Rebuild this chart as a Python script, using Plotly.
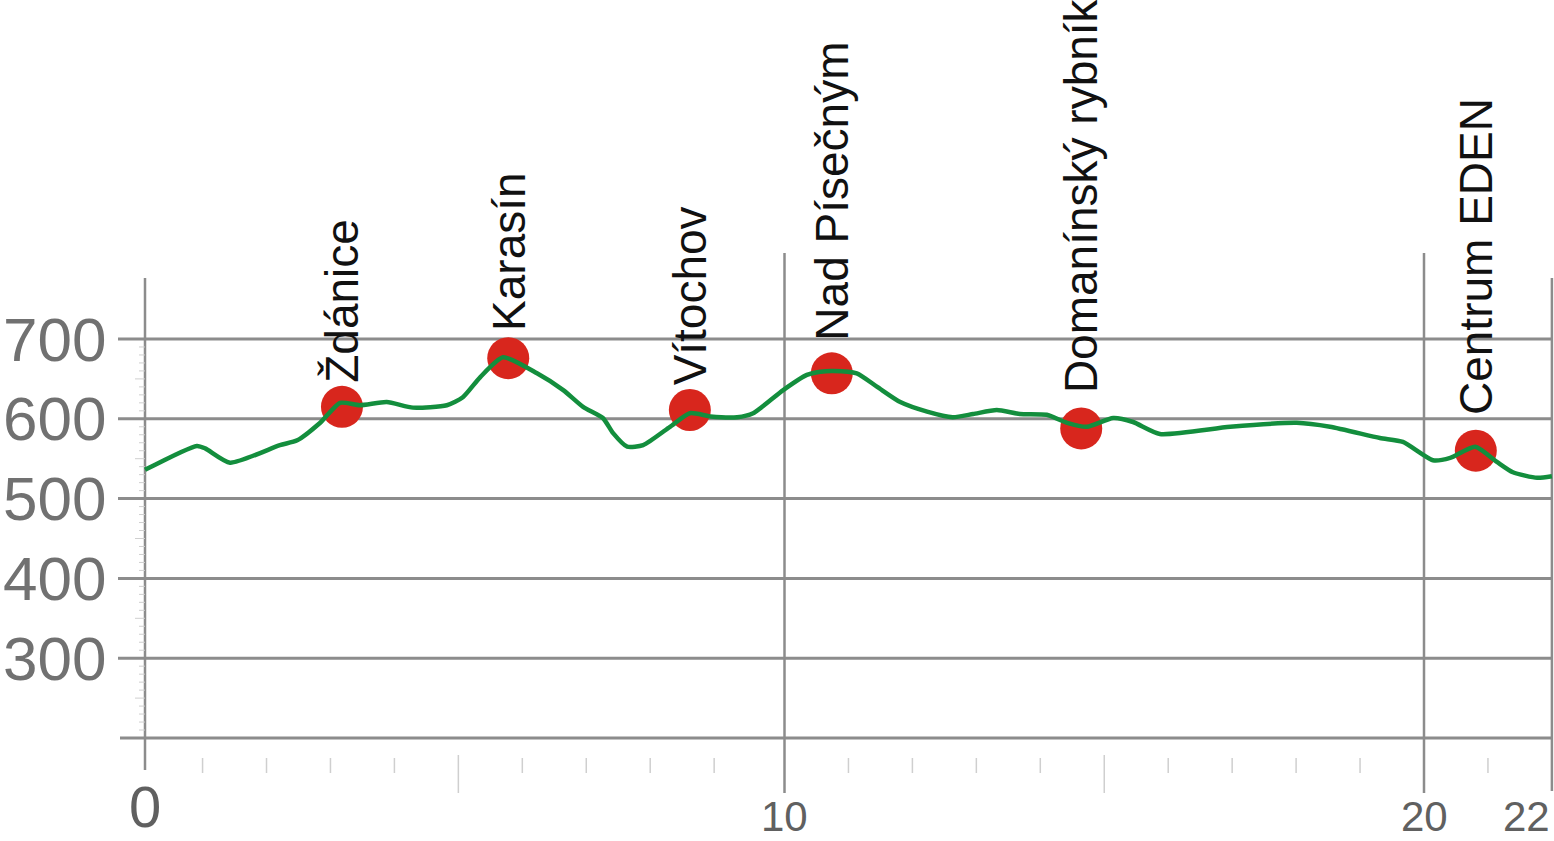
import plotly.graph_objects as go

# ---------------- data ----------------
km = [0.0, 0.81, 0.94, 1.33, 2.11, 2.38, 2.74, 3.05, 3.36, 3.78, 4.19, 4.72, 4.97,
      5.24, 5.60, 6.13, 6.54, 6.85, 7.16, 7.32, 7.54, 7.79, 8.21, 8.52, 8.84, 9.26,
      9.51, 9.98, 10.35, 10.56, 10.76, 11.13, 11.45, 11.81, 12.23, 12.63, 12.95,
      13.32, 13.68, 14.10, 14.42, 14.73, 15.14, 15.45, 15.87, 16.97, 18.01, 18.53,
      19.31, 19.67, 20.14, 20.41, 20.80, 21.14, 21.39, 21.77, 22.0]
elev = [536, 566, 563, 545, 567, 573, 595, 620, 617, 621, 614, 617, 627,
        652, 677, 657, 636, 615, 601, 582, 565, 567, 590, 607, 603, 602,
        607, 636, 655, 659, 660, 657, 640, 621, 609, 602, 606,
        611, 606, 605, 595, 590, 601, 596, 581, 590, 595, 590,
        576, 571, 548, 551, 565, 546, 533, 526, 528]

stations = ["Ždánice", "Karasín", "Vítochov", "Nad Písečným", "Domanínský rybník", "Centrum EDEN"]
station_km = [3.08, 5.68, 8.52, 10.74, 14.64, 20.81]
station_elev = [615, 676, 611, 657, 588, 560]

y_ticks = [700, 600, 500, 400, 300]
y_base = 200
x_tick_vals = [0, 10, 20, 22]
x_tick_text = ["0", "10", "20", "22"]

# ---------------- geometry ----------------
W, H = 1554, 841
X0PX, PXKM = 145, 63.95
Y200PX, PXM = 738, 0.798


def kx(px):
    return (px - X0PX) / PXKM


def ey(py):
    return y_base + (Y200PX - py) / PXM


xr = [kx(0), kx(W)]
yr = [ey(H), ey(0)]

GRID = "#8c8c8c"
MINOR = "#cfcfcf"
shapes = []

# horizontal grid lines
for v in y_ticks:
    shapes.append(dict(type="line", xref="x", yref="y", x0=kx(118), x1=22.0, y0=v, y1=v,
                       line=dict(color=GRID, width=3), layer="below"))
shapes.append(dict(type="line", xref="x", yref="y", x0=kx(120), x1=22.0, y0=y_base, y1=y_base,
                   line=dict(color=GRID, width=3), layer="below"))
# y axis line
shapes.append(dict(type="line", xref="x", yref="y", x0=0, x1=0, y0=ey(770), y1=ey(278),
                   line=dict(color=GRID, width=2.5), layer="below"))
# vertical major lines
for v in [10, 20]:
    shapes.append(dict(type="line", xref="x", yref="y", x0=v, x1=v, y0=ey(793), y1=ey(253),
                       line=dict(color=GRID, width=2.5), layer="below"))
shapes.append(dict(type="line", xref="x", yref="y", x0=22, x1=22, y0=ey(791), y1=ey(278),
                   line=dict(color=GRID, width=2.5), layer="below"))
# minor x ticks
for k in range(1, 22):
    if k in (10, 20):
        continue
    pos = k - 0.1 if k < 10 else k
    if k in (5, 15):
        y0, y1 = ey(793), ey(755)
    else:
        y0, y1 = ey(773), ey(758)
    shapes.append(dict(type="line", xref="x", yref="y", x0=pos, x1=pos, y0=y0, y1=y1,
                       line=dict(color=MINOR, width=1.5), layer="below"))
# minor y ticks
for v in range(210, 700, 10):
    if v % 100 == 0:
        continue
    x0 = kx(135) if v % 50 == 0 else kx(139)
    shapes.append(dict(type="line", xref="x", yref="y", x0=x0, x1=0, y0=v, y1=v,
                       line=dict(color=MINOR, width=1), layer="below"))

FONT = "Arial, Liberation Sans, sans-serif"
annotations = []
for v in y_ticks:
    annotations.append(dict(x=kx(108), y=v, xref="x", yref="y", text=str(v), showarrow=False,
                            xanchor="right", yanchor="middle",
                            font=dict(family=FONT, size=62, color="#717171")))
for v, t in zip(x_tick_vals, x_tick_text):
    size = 58 if v == 0 else 42
    cy = ey(806) if v == 0 else ey(816)
    if v == 22:
        annotations.append(dict(x=v, y=cy, xref="x", yref="y", text=t, showarrow=False,
                                xanchor="right", yanchor="middle", xshift=-1, borderpad=0,
                                font=dict(family=FONT, size=size, color="#606060")))
    else:
        annotations.append(dict(x=v, y=cy, xref="x", yref="y", text=t, showarrow=False,
                                xanchor="center", yanchor="middle", borderpad=0,
                                font=dict(family=FONT, size=size, color="#606060")))

label_shift = [22, 25, 23, 31, 33, 34]
for name, sx, se, sh in zip(stations, station_km, station_elev, label_shift):
    annotations.append(dict(x=sx, y=se, xref="x", yref="y", text=name, showarrow=False,
                            textangle=-90, xanchor="center", yanchor="bottom", yshift=sh,
                            font=dict(family=FONT, size=46, color="#111111")))

fig = go.Figure()
fig.add_trace(go.Scatter(x=station_km, y=station_elev, mode="markers",
                         marker=dict(size=42, color="#D8261D", line=dict(width=0)),
                         hoverinfo="skip", showlegend=False))
fig.add_trace(go.Scatter(x=km, y=elev, mode="lines",
                         line=dict(color="#138E3D", width=4.5, shape="spline", smoothing=0.6),
                         showlegend=False))

fig.update_layout(
    width=W, height=H,
    margin=dict(l=0, r=0, t=0, b=0),
    paper_bgcolor="white", plot_bgcolor="white",
    xaxis=dict(range=xr, visible=False, fixedrange=True),
    yaxis=dict(range=yr, visible=False, fixedrange=True),
    shapes=shapes, annotations=annotations,
    showlegend=False,
)
fig.write_html("out.html", config={"displayModeBar": False},
               post_script="document.body.style.margin='0';document.body.style.overflow='hidden';")
